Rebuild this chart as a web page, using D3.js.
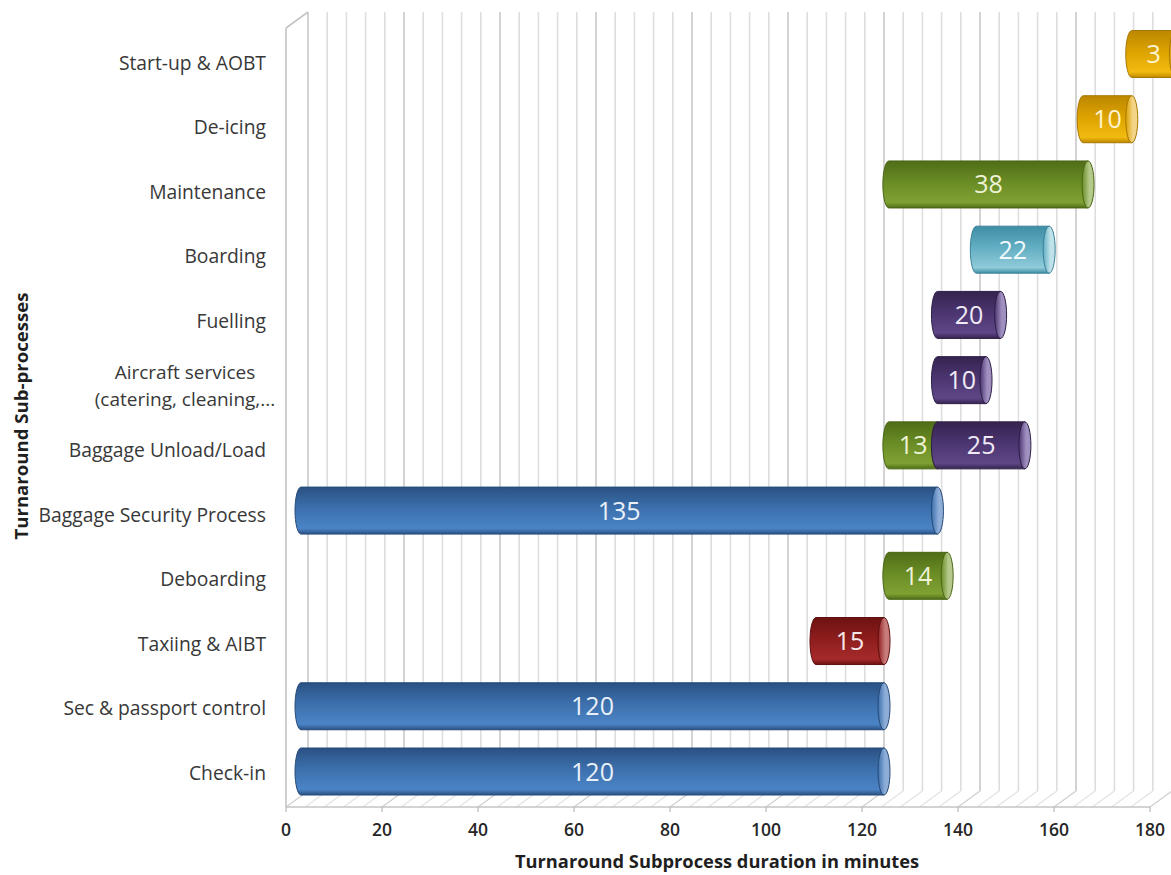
<!DOCTYPE html>
<html>
<head>
<meta charset="utf-8">
<script src="https://cdn.jsdelivr.net/npm/d3@7"></script>
<style>
  html, body { margin: 0; padding: 0; background: #ffffff; }
  svg { display: block; }
</style>
</head>
<body>
<svg id="chart" width="1171" height="875"></svg>
<script>
// ---------------- DATA ----------------
// categories, bottom to top
const categories = [
  "Check-in",
  "Sec & passport control",
  "Taxiing & AIBT",
  "Deboarding",
  "Baggage Security Process",
  "Baggage Unload/Load",
  "Aircraft services|(catering, cleaning,...",
  "Fuelling",
  "Boarding",
  "Maintenance",
  "De-icing",
  "Start-up & AOBT"
];
// bars as drawn (start / end in minutes) and their printed labels
const barCategory = [
  "Check-in", "Sec & passport control", "Taxiing & AIBT", "Deboarding",
  "Baggage Security Process", "Baggage Unload/Load", "Baggage Unload/Load",
  "Aircraft services|(catering, cleaning,...", "Fuelling", "Boarding",
  "Maintenance", "De-icing", "Start-up & AOBT"
];
const barStart  = [0, 0, 106, 121, 0, 121, 131, 131, 131, 139, 121, 161, 171];
const barEnd    = [120, 120, 120, 133, 131, 131, 149, 141, 144, 154, 162, 171, 180];
const barLabel  = ["120", "120", "15", "14", "135", "13", "25", "10", "20", "22", "38", "10", "3"];
const barSeries = ["blue", "blue", "red", "green", "blue", "green", "purple", "purple", "purple", "teal", "green", "gold", "gold"];
const tickValues = [0, 20, 40, 60, 80, 100, 120, 140, 160, 180];
const minorStep = 4;
const xTitle = "Turnaround Subprocess duration in minutes";
const yTitle = "Turnaround Sub-processes";

// ---------------- STYLE ----------------
const palette = {
  blue:   { top: "#2a5183", mid: "#3c70ad", bot: "#4b84c6", edge: "#264a78", cap: "#8eaed8", text: "#e9f0f8" },
  red:    { top: "#6e1212", mid: "#8e1d1d", bot: "#a52a2a", edge: "#5e1010", cap: "#c97a7a", text: "#f6e8e8" },
  green:  { top: "#4f6d17", mid: "#6a8c25", bot: "#7fa133", edge: "#4a6615", cap: "#b4c98a", text: "#eef3d6" },
  purple: { top: "#35234f", mid: "#4b3570", bot: "#5f4787", edge: "#2e1f46", cap: "#a090c0", text: "#efeaf6" },
  teal:   { top: "#3f8ea5", mid: "#62aec2", bot: "#8fcbd9", edge: "#3a8198", cap: "#bfe2ea", text: "#f2fafc" },
  gold:   { top: "#bd8700", mid: "#dca300", bot: "#f2bb10", edge: "#a87700", cap: "#f3d588", text: "#fff4d0" }
};

const svg = d3.select("#chart");
const fontFam = "'Open Sans', Lato, 'DejaVu Sans', sans-serif";

// scales
const xFront = d3.scaleLinear().domain([0, 180]).range([286, 1150]);
const depthX = 22, depthY = -16;
const xBack = v => xFront(v) + depthX;
const xBar = d3.scaleLinear().domain([0, 120]).range([301, 884]);
const floorY = 807;
const topY = 28;
const yLab = d3.scalePoint().domain(categories).range([773, 63]);
const yBar = d3.scalePoint().domain(categories).range([771.5, 54]);
const barH = 47, capRx = 6;

// gradients
const defs = svg.append("defs");
Object.entries(palette).forEach(([k, c]) => {
  const g = defs.append("linearGradient").attr("id", "g-" + k)
    .attr("x1", 0).attr("y1", 0).attr("x2", 0).attr("y2", 1);
  g.append("stop").attr("offset", "0%").attr("stop-color", c.top);
  g.append("stop").attr("offset", "45%").attr("stop-color", c.mid);
  g.append("stop").attr("offset", "88%").attr("stop-color", c.bot);
  g.append("stop").attr("offset", "100%").attr("stop-color", c.top);
  const cg = defs.append("linearGradient").attr("id", "c-" + k)
    .attr("x1", 0).attr("y1", 0).attr("x2", 1).attr("y2", 0);
  cg.append("stop").attr("offset", "0%").attr("stop-color", c.mid);
  cg.append("stop").attr("offset", "60%").attr("stop-color", c.cap);
  cg.append("stop").attr("offset", "100%").attr("stop-color", c.cap);
});

// ---------------- WALLS & GRID ----------------
const grid = svg.append("g");
const gridVals = d3.range(0, 180 + 0.001, minorStep);
grid.selectAll("line.bw").data(gridVals).join("line")
  .attr("x1", d => xBack(d)).attr("x2", d => xBack(d))
  .attr("y1", topY + depthY).attr("y2", floorY + depthY)
  .attr("stroke", d => d % 20 === 0 ? "#c9c9c9" : "#dedede")
  .attr("stroke-width", 1.6);
grid.selectAll("line.fl").data(gridVals).join("line")
  .attr("x1", d => xFront(d)).attr("x2", d => xBack(d))
  .attr("y1", floorY).attr("y2", floorY + depthY)
  .attr("stroke", d => d % 20 === 0 ? "#cfcfcf" : "#e2e2e2")
  .attr("stroke-width", 1.2);
grid.append("line").attr("x1", xFront(0)).attr("x2", xFront(0))
  .attr("y1", topY).attr("y2", floorY).attr("stroke", "#c4c4c4").attr("stroke-width", 1.6);
grid.append("line").attr("x1", xFront(0)).attr("x2", xBack(0))
  .attr("y1", topY).attr("y2", topY + depthY).attr("stroke", "#c4c4c4").attr("stroke-width", 1.6);
grid.append("line").attr("x1", xFront(0)).attr("x2", xFront(180))
  .attr("y1", floorY).attr("y2", floorY).attr("stroke", "#c4c4c4").attr("stroke-width", 1.4);
grid.selectAll("line.tk").data(tickValues).join("line")
  .attr("x1", d => xFront(d)).attr("x2", d => xFront(d))
  .attr("y1", floorY).attr("y2", floorY + 5)
  .attr("stroke", "#b8b8b8").attr("stroke-width", 1.2);

// ---------------- BARS ----------------
const bars = barCategory.map((c, i) => ({
  cat: c, s: barStart[i], e: barEnd[i], label: barLabel[i], series: barSeries[i]
}));
const bg = svg.append("g");
bars.forEach(b => {
  const c = palette[b.series];
  const x0 = xBar(b.s), x1 = xBar(b.e);
  const yc = yBar(b.cat), yt = yc - barH / 2, yb = yc + barH / 2;
  const ry = barH / 2;
  const g = bg.append("g");
  g.append("path")
    .attr("d", `M${x0},${yt} L${x1},${yt} L${x1},${yb} L${x0},${yb} A${capRx},${ry} 0 0 1 ${x0},${yt} Z`)
    .attr("fill", `url(#g-${b.series})`)
    .attr("stroke", c.edge).attr("stroke-width", 1);
  g.append("ellipse")
    .attr("cx", x1).attr("cy", yc).attr("rx", capRx).attr("ry", ry)
    .attr("fill", `url(#c-${b.series})`)
    .attr("stroke", c.edge).attr("stroke-width", 1);
  b.x0 = x0; b.x1 = x1; b.yc = yc;
});
svg.append("g").selectAll("text").data(bars).join("text")
  .attr("x", d => (d.x0 + d.x1) / 2)
  .attr("y", d => d.yc)
  .attr("dy", "0.36em")
  .attr("text-anchor", "middle")
  .attr("font-family", fontFam)
  .attr("font-size", 25)
  .attr("fill", d => palette[d.series].text)
  .text(d => d.label);

// ---------------- AXIS LABELS ----------------
svg.append("g").selectAll("text").data(tickValues).join("text")
  .attr("x", d => xFront(d)).attr("y", 830).attr("dy", "0.35em")
  .attr("text-anchor", "middle")
  .attr("font-family", fontFam).attr("font-size", 17.5).attr("font-weight", 600)
  .attr("fill", "#262626")
  .text(d => d);

const catG = svg.append("g");
categories.forEach(c => {
  const parts = c.split("|");
  const y = yLab(c);
  if (parts.length === 1) {
    catG.append("text").attr("x", 266).attr("y", y).attr("dy", "0.35em")
      .attr("text-anchor", "end")
      .attr("font-family", fontFam).attr("font-size", 19.3)
      .attr("fill", "#383838").text(c);
  } else {
    parts.forEach((p, j) => {
      catG.append("text").attr("x", 185).attr("y", y + (j - 0.5) * 26.5).attr("dy", "0.35em")
        .attr("text-anchor", "middle")
        .attr("font-family", fontFam).attr("font-size", 19)
        .attr("fill", "#383838").text(p);
    });
  }
});

svg.append("text").attr("x", 717).attr("y", 862).attr("dy", "0.35em")
  .attr("text-anchor", "middle")
  .attr("font-family", fontFam).attr("font-size", 18.3).attr("font-weight", 700)
  .attr("fill", "#1f1f1f").text(xTitle);

svg.append("text")
  .attr("transform", "translate(21,416) rotate(-90)")
  .attr("dy", "0.35em")
  .attr("text-anchor", "middle")
  .attr("font-family", fontFam).attr("font-size", 18.6).attr("font-weight", 700)
  .attr("fill", "#1f1f1f").text(yTitle);
</script>
</body>
</html>
